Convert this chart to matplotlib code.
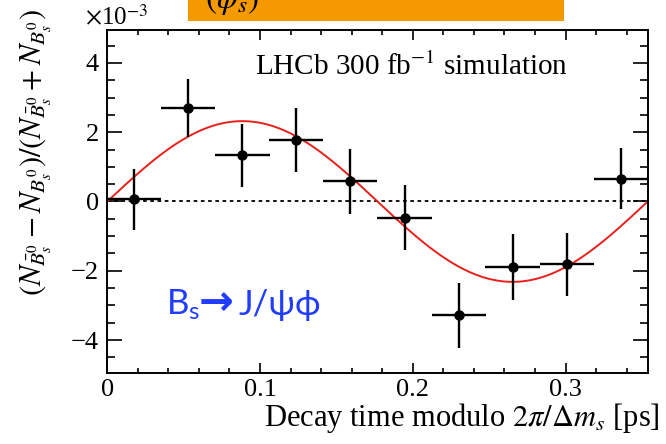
import numpy as np
import matplotlib
matplotlib.use("Agg")
import matplotlib.pyplot as plt
from matplotlib.patches import Rectangle

plt.rcParams['font.family'] = ['Liberation Serif', 'DejaVu Serif']
plt.rcParams['mathtext.fontset'] = 'stix'

# period of the oscillation, 2*pi/dm_s [ps]
period = 0.3538
n_bins = 10

# binned asymmetry (units of 1e-3)
bin_centers = [0.0177, 0.0531, 0.0885, 0.1238, 0.1592, 0.1946, 0.2300, 0.2653, 0.3007, 0.3361]
bin_halfwidth = [0.0177] * n_bins
asym = [0.06, 2.70, 1.33, 1.78, 0.58, -0.47, -3.28, -1.89, -1.81, 0.66]
asym_err = [0.89, 0.84, 0.91, 0.92, 0.93, 0.94, 0.94, 0.95, 0.91, 0.88]

# fitted amplitude (units of 1e-3)
fit_amp = 2.32

fig = plt.figure(figsize=(6.66, 4.44), dpi=100)
ax = fig.add_axes([107.3 / 666, 71 / 444, (648 - 107.3) / 666, (373 - 30) / 444])

t = np.linspace(0, period, 300)
ax.plot(t, fit_amp * np.sin(2 * np.pi * t / period), color='#e8201c', lw=1.4, zorder=2)
ax.axhline(0, color='black', lw=1.3, linestyle=(0, (2, 2)), zorder=1)
ax.errorbar(bin_centers, asym, xerr=bin_halfwidth, yerr=asym_err, fmt='o', color='black',
            ms=6.5, elinewidth=1.7, capsize=0, zorder=3)

ax.set_xlim(0, 0.354)
ax.set_ylim(-4.95, 4.95)
ax.set_xticks([0, 0.1, 0.2, 0.3])
ax.set_xticklabels(['0', '0.1', '0.2', '0.3'])
ax.set_xticks(np.arange(0, 0.354, 0.02), minor=True)
ax.set_yticks([-4, -2, 0, 2, 4])
ax.set_yticklabels(['\u22124', '\u22122', '0', '2', '4'])
ax.set_yticks(np.arange(-4.5, 4.6, 0.5), minor=True)

ax.tick_params(axis='both', which='both', direction='in', top=True, right=True, width=1.2)
ax.tick_params(axis='x', which='major', length=7.5, labelsize=19, pad=4)
ax.tick_params(axis='x', which='minor', length=3.8)
ax.tick_params(axis='y', which='major', length=11, labelsize=19, pad=6)
ax.tick_params(axis='y', which='minor', length=5.5)
for s in ax.spines.values():
    s.set_linewidth(1.4)

fig.text(660 / 666, 1 - 426 / 444, r'Decay time modulo $2\pi/\Delta m_s$ [ps]',
         ha='right', va='baseline', fontsize=22)
fig.text(36 / 666, 1 - 152 / 444,
         r'$(N_{\bar{B}_s^0} - N_{B_s^0})/(N_{\bar{B}_s^0} + N_{B_s^0})$',
         rotation=90, ha='center', va='center', fontsize=22)
fig.text(85 / 666, 1 - 25 / 444, r'$\times$10$^{-3}$', ha='left', va='baseline', fontsize=18)
fig.text(568 / 666, 1 - 75 / 444, r'LHCb 300 fb$^{-1}$ simulation',
         ha='right', va='baseline', fontsize=21)

# decay channel label, drawn in three pieces
blue = '#1f3cff'
fig.text(166 / 666, 1 - 315 / 444, r'$\mathregular{B_s}$', ha='left', va='baseline',
         fontsize=25, color=blue, family='Lato')
fig.text(199 / 666, 1 - 315 / 444, '\u2192', ha='left', va='baseline',
         fontsize=30, color=blue, family='DejaVu Sans', fontweight='bold')
fig.text(239 / 666, 1 - 315 / 444, 'J/\u03c8\u03d5', ha='left', va='baseline',
         fontsize=25, color=blue, family=['Lato', 'DejaVu Sans'])

# orange banner cut at the top
fig.patches.append(Rectangle((188 / 666, 1 - 21 / 444), (564 - 188) / 666, 21 / 444 + 0.01,
                             transform=fig.transFigure, facecolor='#f49a00', edgecolor='none'))
fig.text(205 / 666, 1 - 8 / 444, r'$(\phi_s)$', ha='left', va='baseline', fontsize=24)

fig.savefig('out.png', dpi=100)
